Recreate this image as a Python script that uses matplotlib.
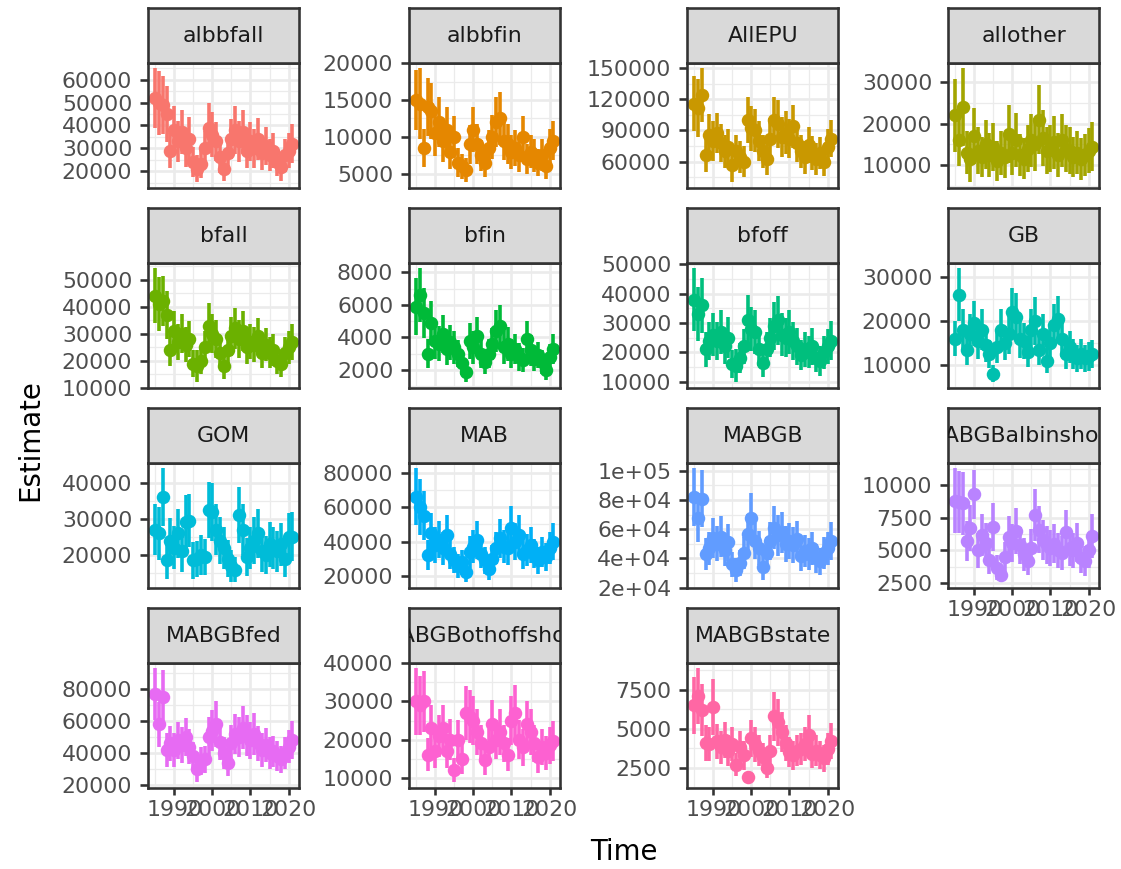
import matplotlib
matplotlib.use("Agg")
import matplotlib.pyplot as plt
import numpy as np

plt.rcParams['font.family'] = ['DejaVu Sans']

years = list(range(1985, 2022))

panel_names = ["albbfall", "albbfin", "AllEPU", "allother",
               "bfall", "bfin", "bfoff", "GB",
               "GOM", "MAB", "MABGB", "MABGBalbinshore",
               "MABGBfed", "MABGBothoffshore", "MABGBstate"]

colors = ["#F8766D", "#E58700", "#C99800", "#A3A500", "#6BB100", "#00BA38",
          "#00BF7D", "#00C0AF", "#00BCD8", "#00B0F6", "#619CFF", "#B983FF",
          "#E76BF3", "#FD61D1", "#FF67A4"]

# Estimates per region (1985-2021)
albbfall = [52000, 50000, 49000, 45000, 29000, 38000, 33000, 37000, 30000, 34000, 24000, 21000, 23000, 30000, 39000, 36000, 33000, 26000, 21000, 28000, 34000, 38000, 33000, 37000, 29000, 33000, 30000, 34000, 28000, 31000, 27000, 29000, 24000, 22000, 27000, 29000, 32000]
albbfin = [15000, 14500, 8500, 14000, 13500, 10500, 12000, 9500, 11000, 8000, 10000, 6500, 6000, 5500, 9000, 11000, 9000, 7500, 6500, 8500, 10000, 12000, 12500, 9500, 9000, 8000, 8500, 7500, 10000, 7000, 8000, 7500, 6500, 7500, 6000, 8500, 9500]
AllEPU = [116000, 112000, 124000, 66000, 86000, 80000, 88000, 78000, 70000, 74000, 57000, 70000, 64000, 60000, 100000, 92000, 90000, 80000, 70000, 62000, 82000, 100000, 96000, 84000, 88000, 82000, 94000, 78000, 70000, 64000, 76000, 68000, 62000, 68000, 60000, 74000, 82000]
allother = [22000, 16000, 24000, 13000, 11500, 17000, 13500, 12000, 15000, 12500, 14500, 11000, 13000, 12000, 17500, 13000, 16000, 12500, 11500, 14000, 16000, 15000, 21000, 16500, 13500, 14000, 15500, 12500, 16000, 14000, 13500, 12000, 13000, 11500, 12500, 13500, 14500]
bfall = [44000, 41000, 42000, 37000, 24000, 31000, 27000, 30000, 26000, 28000, 19000, 18000, 20000, 25000, 33000, 30000, 28000, 23000, 18000, 24000, 29000, 32000, 28000, 31000, 25000, 27000, 26000, 29000, 23000, 26000, 23000, 24000, 20000, 19000, 23000, 25000, 27000]
bfin = [5900, 6600, 5500, 3000, 4900, 3800, 3600, 4200, 3300, 3700, 3400, 3000, 2400, 1900, 3800, 3400, 4100, 3000, 2500, 3000, 3600, 4400, 4700, 3400, 3600, 3000, 3300, 2800, 2600, 3900, 3200, 2700, 2900, 2500, 2000, 2800, 3300]
bfoff = [38000, 33000, 36000, 21000, 24000, 26000, 24000, 27000, 22000, 25000, 16000, 15500, 18000, 22000, 31000, 28000, 27000, 21000, 16500, 21000, 25000, 29000, 31000, 26000, 25000, 27000, 24000, 22000, 19000, 21000, 20000, 22000, 18000, 17000, 20000, 22000, 24000]
GB = [16000, 26000, 18000, 13500, 17000, 19500, 15500, 18000, 14500, 12500, 8000, 14000, 18000, 15000, 17000, 22000, 21000, 16000, 15500, 13000, 18000, 20000, 13500, 17000, 11000, 15000, 19000, 20500, 16000, 12500, 14000, 12500, 11500, 12500, 11500, 12000, 12500]
GOM = [27000, 26000, 36000, 18500, 24000, 22000, 26000, 21000, 29000, 29500, 18500, 19000, 20000, 19500, 32500, 32000, 27000, 24000, 22000, 19000, 17000, 16000, 31000, 27000, 19500, 22000, 24000, 26000, 21000, 20000, 23000, 22000, 21000, 23000, 19000, 25000, 25000]
MAB = [66000, 60000, 55000, 32000, 45000, 38000, 41000, 36000, 44000, 33000, 29000, 26000, 28000, 22000, 34000, 37000, 41000, 33000, 29000, 24000, 30000, 36000, 42000, 37000, 36000, 48000, 40000, 44000, 33000, 35000, 38000, 33000, 29000, 34000, 31000, 36000, 40000]
MABGB = [82000, 68000, 81000, 43000, 47000, 54000, 50000, 55000, 46000, 51000, 36000, 32000, 37000, 44000, 57000, 68000, 52000, 47000, 34000, 44000, 52000, 61000, 56000, 58000, 50000, 52000, 49000, 53000, 42000, 45000, 43000, 47000, 40000, 38000, 44000, 47000, 52000]
MABGBalbinshore = [8800, 8700, 8600, 5700, 6700, 9300, 5000, 6200, 5600, 4300, 6800, 3700, 3100, 4500, 6000, 5600, 6500, 5400, 4700, 4200, 5200, 7700, 6600, 5800, 5400, 5200, 5500, 5000, 4800, 6400, 5200, 5000, 5600, 4400, 4200, 5000, 6100]
MABGBfed = [77000, 58000, 75000, 42000, 46000, 42000, 48000, 45000, 50000, 44000, 38000, 30000, 35000, 36000, 50000, 54000, 58000, 47000, 40000, 34000, 46000, 52000, 50000, 56000, 51000, 48000, 52000, 46000, 42000, 45000, 40000, 41000, 38000, 36000, 40000, 44000, 48000]
MABGBothoffshore = [30000, 29000, 30000, 16000, 23000, 17000, 21000, 23000, 17000, 20000, 12000, 20000, 15000, 27000, 26000, 25000, 22000, 19000, 14500, 18000, 24000, 20000, 22000, 19000, 16000, 25000, 27000, 20000, 18000, 24000, 22000, 19000, 15500, 18000, 16500, 18500, 19500]
MABGBstate = [6500, 7100, 6200, 4100, 4000, 6400, 4200, 3800, 4300, 3600, 4000, 2700, 3800, 3300, 1900, 4400, 4000, 3600, 3200, 2500, 3600, 5800, 5400, 4800, 4100, 3500, 3300, 3600, 3700, 4000, 4600, 3400, 3600, 3300, 3100, 3700, 4200]

# Half-width of the interval, percent of the estimate
cv_albbfall = [25, 28, 26, 27, 26, 28, 27, 26, 27, 28, 27, 28, 27, 26, 28, 27, 26, 27, 26, 27, 26, 28, 27, 26, 27, 26, 28, 27, 26, 27, 26, 27, 26, 28, 27, 26, 27]
cv_albbfin = [27, 33, 30, 28, 28, 29, 28, 30, 28, 29, 28, 30, 28, 30, 29, 28, 30, 28, 29, 28, 30, 28, 29, 28, 30, 29, 28, 30, 28, 29, 28, 30, 28, 29, 28, 30, 28]
cv_AllEPU = [23, 25, 21, 24, 23, 24, 22, 24, 23, 24, 30, 23, 24, 25, 22, 24, 23, 24, 23, 25, 24, 22, 24, 23, 24, 23, 22, 24, 23, 25, 23, 24, 25, 23, 24, 23, 22]
cv_allother = [40, 38, 39, 40, 49, 40, 42, 41, 40, 42, 40, 44, 41, 42, 40, 42, 41, 40, 43, 41, 40, 42, 40, 41, 42, 40, 41, 42, 40, 41, 42, 41, 40, 44, 41, 40, 41]
cv_bfall = [23, 24, 22, 24, 25, 24, 25, 24, 25, 24, 26, 33, 25, 24, 25, 24, 25, 24, 26, 24, 25, 24, 25, 24, 25, 24, 25, 24, 25, 24, 25, 24, 25, 26, 25, 24, 25]
cv_bfin = [30, 25, 28, 30, 28, 29, 30, 28, 30, 29, 30, 28, 30, 35, 29, 30, 28, 30, 29, 30, 28, 29, 28, 30, 29, 30, 28, 30, 29, 28, 30, 29, 28, 30, 31, 29, 28]
cv_bfoff = [28, 28, 26, 28, 27, 28, 27, 28, 27, 28, 30, 37, 28, 27, 28, 27, 28, 27, 30, 28, 27, 28, 27, 28, 27, 28, 27, 28, 27, 28, 27, 28, 27, 30, 28, 27, 28]
cv_GB = [25, 23, 27, 26, 27, 26, 27, 26, 27, 26, 24, 26, 27, 26, 27, 25, 26, 27, 26, 27, 26, 27, 26, 27, 26, 27, 26, 25, 26, 27, 26, 27, 26, 27, 26, 27, 26]
cv_GOM = [26, 28, 22, 27, 26, 27, 26, 27, 26, 25, 27, 26, 27, 26, 24, 25, 26, 27, 26, 27, 26, 22, 25, 26, 27, 26, 27, 26, 27, 26, 27, 26, 27, 26, 27, 26, 27]
cv_MAB = [25, 27, 26, 27, 26, 27, 26, 27, 26, 27, 26, 27, 26, 26, 27, 26, 27, 26, 27, 26, 27, 26, 27, 26, 27, 26, 27, 26, 27, 26, 27, 26, 27, 26, 27, 26, 27]
cv_MABGB = [24, 25, 24, 25, 24, 25, 24, 25, 24, 25, 24, 26, 24, 25, 24, 25, 24, 25, 25, 24, 25, 24, 25, 24, 25, 24, 25, 24, 25, 24, 25, 24, 25, 24, 25, 24, 25]
cv_MABGBalbinshore = [28, 27, 28, 27, 26, 20, 27, 26, 27, 26, 27, 25, 17, 26, 27, 26, 27, 26, 27, 26, 27, 26, 27, 26, 27, 26, 27, 26, 27, 26, 27, 26, 27, 26, 27, 26, 27]
cv_MABGBfed = [21, 24, 23, 25, 24, 25, 24, 25, 24, 25, 24, 28, 25, 24, 25, 24, 25, 24, 25, 24, 25, 24, 25, 24, 25, 24, 25, 24, 25, 24, 25, 24, 25, 24, 25, 24, 25]
cv_MABGBothoffshore = [29, 27, 27, 27, 26, 27, 26, 27, 26, 27, 27, 26, 27, 26, 27, 26, 27, 26, 27, 26, 27, 26, 27, 26, 27, 26, 27, 26, 27, 26, 27, 26, 27, 26, 27, 26, 27]
cv_MABGBstate = [28, 25, 27, 28, 27, 28, 27, 28, 27, 28, 27, 28, 27, 28, 18, 27, 28, 27, 28, 27, 28, 27, 28, 27, 28, 27, 28, 27, 28, 27, 28, 27, 28, 27, 28, 27, 28]

estimates = [albbfall, albbfin, AllEPU, allother, bfall, bfin, bfoff, GB,
             GOM, MAB, MABGB, MABGBalbinshore, MABGBfed, MABGBothoffshore, MABGBstate]
cvs = [cv_albbfall, cv_albbfin, cv_AllEPU, cv_allother, cv_bfall, cv_bfin, cv_bfoff, cv_GB,
       cv_GOM, cv_MAB, cv_MABGB, cv_MABGBalbinshore, cv_MABGBfed, cv_MABGBothoffshore, cv_MABGBstate]

yticks = [
    [20000, 30000, 40000, 50000, 60000],
    [5000, 10000, 15000, 20000],
    [60000, 90000, 120000, 150000],
    [10000, 20000, 30000],
    [10000, 20000, 30000, 40000, 50000],
    [2000, 4000, 6000, 8000],
    [10000, 20000, 30000, 40000, 50000],
    [10000, 20000, 30000],
    [20000, 30000, 40000],
    [20000, 40000, 60000, 80000],
    [20000, 40000, 60000, 80000, 100000],
    [2500, 5000, 7500, 10000],
    [20000, 40000, 60000, 80000],
    [10000, 20000, 30000, 40000],
    [2500, 5000, 7500],
]
ytick_labels = [[str(v) for v in t] for t in yticks]
ytick_labels[10] = ["2e+04", "4e+04", "6e+04", "8e+04", "1e+05"]

xticks = [1990, 2000, 2010, 2020]
xtick_labels = ["1990", "2000", "2010", "2020"]

# ---- layout (pixels) ----
W, H = 1121, 869
DPI = 100
PX = 72.0 / DPI  # points per pixel

fig = plt.figure(figsize=(W / DPI, H / DPI), dpi=DPI)
fig.patch.set_facecolor("white")

col_left = [148.3, 409.3, 687.3, 948.3]
row_top = [62.7, 262.7, 462.7, 662.7]
pw, ph = 151.0, 125.3
strip_h = 54.4


def rect(x, y, w, h):
    return [x / W, 1 - (y + h) / H, w / W, h / H]


lw = 2.6 * PX
lw_data = 3.6 * PX
tick_fs = 22 * PX
grid_col = "#EBEBEB"
dark = "#333333"

for i, name in enumerate(panel_names):
    r, c = divmod(i, 4)
    x0, y0 = col_left[c], row_top[r]
    ax = fig.add_axes(rect(x0, y0, pw, ph))
    est = np.array(estimates[i], dtype=float)
    hw = est * np.array(cvs[i], dtype=float) / 100.0
    col = colors[i]
    ax.vlines(years, est - hw, est + hw, color=col, lw=lw_data, zorder=3)
    ax.plot(years, est, "o", ms=13.5 * PX, color=col, mew=0, zorder=4)
    ax.margins(x=0.05, y=0.05)
    ax.autoscale_view()
    xl = ax.get_xlim()
    yl = ax.get_ylim()

    yt = yticks[i]
    step = yt[1] - yt[0]
    yminor = [t - step / 2 for t in yt] + [yt[-1] + step / 2]
    ax.set_yticks(yt)
    ax.set_yticklabels(ytick_labels[i])
    ax.set_yticks(yminor, minor=True)
    ax.set_xticks(xticks)
    ax.set_xticks([1985, 1995, 2005, 2015], minor=True)
    ax.set_xlim(xl)
    ax.set_ylim(yl)

    ax.set_facecolor("white")
    ax.grid(which="major", color=grid_col, lw=lw, zorder=0)
    ax.grid(which="minor", color=grid_col, lw=lw / 2, zorder=0)
    ax.set_axisbelow(True)
    for s in ax.spines.values():
        s.set_color(dark)
        s.set_linewidth(lw)
        s.set_zorder(5)
    ax.tick_params(which="minor", length=0)
    ax.tick_params(axis="y", which="major", length=8 * PX, width=lw, color=dark,
                   labelsize=tick_fs, labelcolor="#4D4D4D", pad=8 * PX)
    bottom = (r == 3) or (r == 2 and c == 3)
    if bottom:
        ax.set_xticklabels(xtick_labels)
        ax.tick_params(axis="x", which="major", length=7 * PX, width=lw, color=dark,
                       labelsize=tick_fs, labelcolor="#4D4D4D", pad=5 * PX)
    else:
        ax.tick_params(axis="x", which="major", length=0, labelbottom=False)

    # strip
    sax = fig.add_axes(rect(x0, y0 - strip_h, pw, strip_h))
    sax.set_facecolor("#D9D9D9")
    sax.set_xticks([])
    sax.set_yticks([])
    for s in sax.spines.values():
        s.set_color(dark)
        s.set_linewidth(lw)
    sax.text(0.5, 0.5, name, transform=sax.transAxes, ha="center", va="center",
             fontsize=tick_fs, color="#1A1A1A", clip_on=True)

fig.text(30 / W, 1 - 440 / H, "Estimate", rotation=90, ha="center", va="center",
         fontsize=27.5 * PX, color="black")
fig.text(624 / W, 1 - 852 / H, "Time", ha="center", va="center",
         fontsize=27.5 * PX, color="black")

fig.savefig("out.png", dpi=DPI)
